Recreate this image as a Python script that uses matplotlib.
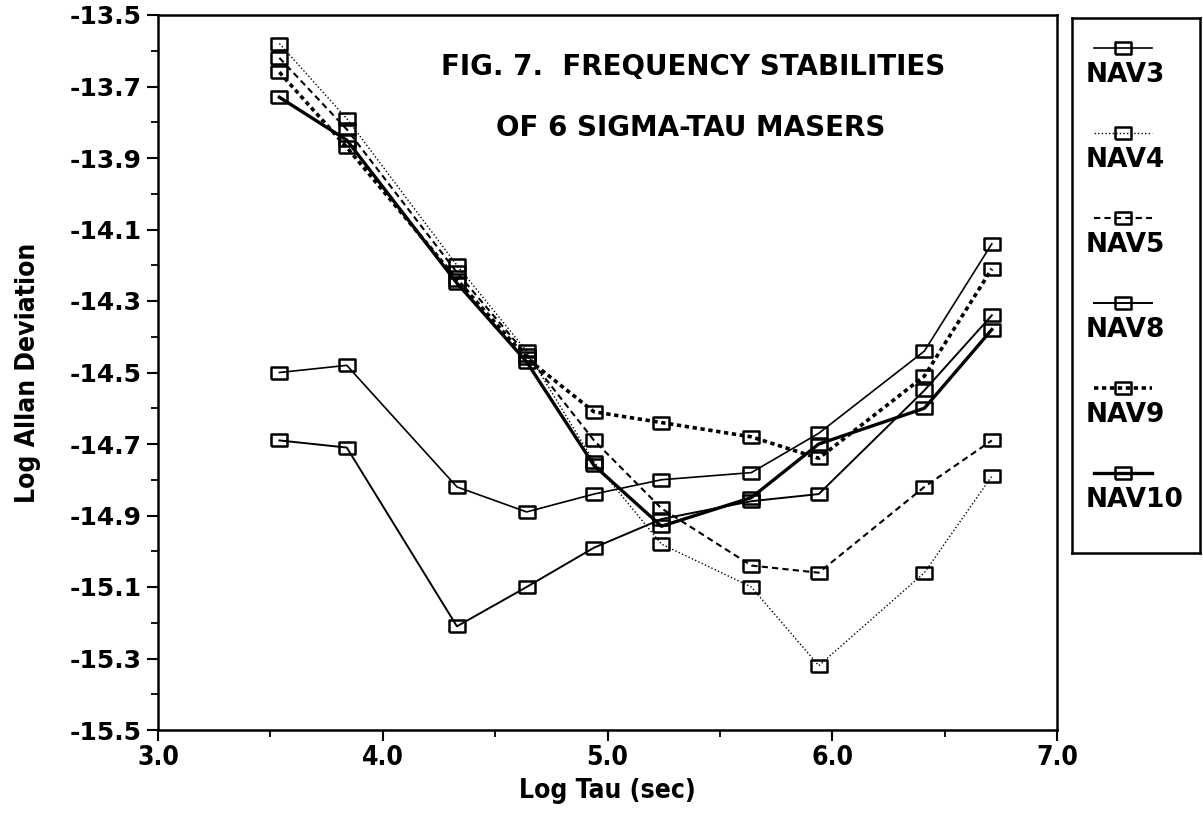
import matplotlib
matplotlib.use('Agg')
import matplotlib.pyplot as plt
from matplotlib.ticker import MultipleLocator, FixedLocator, FormatStrFormatter
from matplotlib.lines import Line2D

# log10 of averaging time (s), 3456 s ... 60 days
log_tau = [3.54, 3.84, 4.33, 4.64, 4.94, 5.24, 5.64, 5.94, 6.41, 6.71]

# log Allan deviation for each maser
nav3 = [-14.50, -14.48, -14.82, -14.89, -14.84, -14.80, -14.78, -14.67, -14.44, -14.14]
nav4 = [-13.58, -13.79, -14.20, -14.44, -14.75, -14.98, -15.10, -15.32, -15.06, -14.79]
nav5 = [-13.62, -13.82, -14.22, -14.45, -14.69, -14.88, -15.04, -15.06, -14.82, -14.69]
nav8 = [-14.69, -14.71, -15.21, -15.10, -14.99, -14.91, -14.86, -14.84, -14.55, -14.34]
nav9 = [-13.66, -13.87, -14.24, -14.46, -14.61, -14.64, -14.68, -14.74, -14.51, -14.21]
nav10 = [-13.73, -13.85, -14.25, -14.47, -14.76, -14.93, -14.85, -14.70, -14.60, -14.38]

names = ['NAV3', 'NAV4', 'NAV5', 'NAV8', 'NAV9', 'NAV10']
series = [nav3, nav4, nav5, nav8, nav9, nav10]

# line style and width per maser
styles = [
    ('solid', 1.2),
    ((0, (1, 1.6)), 1.0),
    ((0, (3, 2)), 1.5),
    ('solid', 1.4),
    ((0, (1.2, 1)), 2.6),
    ('solid', 2.4),
]

# flat open box used as marker
box = [(-1, -0.72), (1, -0.72), (1, 0.72), (-1, 0.72), (-1, -0.72)]
mk = dict(marker=box, markersize=12, markerfacecolor='none',
          markeredgecolor='black', markeredgewidth=1.8)

bold = {'family': 'DejaVu Sans', 'weight': 'bold'}
narrow = {'family': 'DejaVu Sans', 'weight': 'bold', 'stretch': 'condensed'}

W, H = 1203, 819
fig = plt.figure(figsize=(W / 100, H / 100), dpi=100)
ax = fig.add_axes([158 / W, 1 - 730 / H, (1057 - 158) / W, (730 - 15) / H])

for vals, (ls, lw) in zip(series, styles):
    ax.plot(log_tau, vals, color='black', linestyle=ls, linewidth=lw, **mk)

ax.set_xlim(3.0, 7.0)
ax.set_ylim(-15.5, -13.5)
ax.xaxis.set_major_locator(MultipleLocator(1.0))
ax.xaxis.set_minor_locator(MultipleLocator(0.5))
ax.xaxis.set_major_formatter(FormatStrFormatter('%.1f'))
ax.yaxis.set_major_locator(FixedLocator([-13.5 - 0.2 * i for i in range(11)]))
ax.yaxis.set_minor_locator(FixedLocator([-13.6 - 0.2 * i for i in range(10)]))
ax.yaxis.set_major_formatter(FormatStrFormatter('%.1f'))
ax.tick_params(which='major', direction='out', length=8, width=1.5)
ax.tick_params(which='minor', direction='out', length=5, width=1.3)
ax.tick_params(axis='y', pad=4)
ax.tick_params(axis='x', pad=3)
for lab in ax.get_yticklabels():
    lab.set(fontsize=18, **bold)
for lab in ax.get_xticklabels():
    lab.set(fontsize=19, **narrow)
for sp in ax.spines.values():
    sp.set_linewidth(1.8)

ax.set_xlabel('Log Tau (sec)', fontsize=19, labelpad=5, **narrow)
ax.set_ylabel('Log Allan Deviation', fontsize=19, labelpad=20, **narrow)

ax.text(0.595, 0.927, 'FIG. 7.  FREQUENCY STABILITIES', transform=ax.transAxes,
        ha='center', va='center', fontsize=20, **bold)
ax.text(0.592, 0.842, 'OF 6 SIGMA-TAU MASERS', transform=ax.transAxes,
        ha='center', va='center', fontsize=20, **bold)

# legend drawn as its own boxed panel, handle above each name
lax = fig.add_axes([1072 / W, 1 - 553 / H, 128 / W, (553 - 18) / H])
lax.set_xlim(0, 128)
lax.set_ylim(535, 0)
lax.set_xticks([])
lax.set_yticks([])
for sp in lax.spines.values():
    sp.set_linewidth(1.8)
for i, (name, (ls, lw)) in enumerate(zip(names, styles)):
    y_h = 30 + 85 * i
    lax.add_line(Line2D([22, 80], [y_h, y_h], color='black', linestyle=ls,
                        linewidth=lw))
    lax.add_line(Line2D([51], [y_h], linestyle='none', **mk))
    lax.text(14, y_h + 27, name, ha='left', va='center', fontsize=19, **bold)

fig.savefig('out.png', dpi=100)
